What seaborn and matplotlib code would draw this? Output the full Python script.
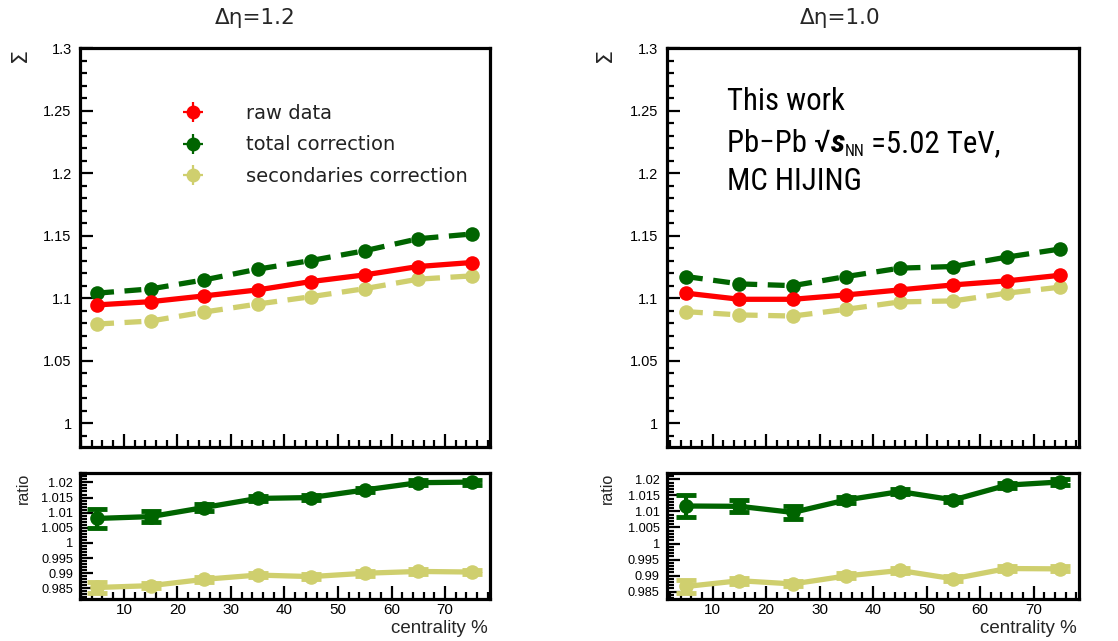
import numpy as np
import pandas as pd
import matplotlib
matplotlib.use("Agg")
import matplotlib.pyplot as plt
import seaborn as sns
from matplotlib.ticker import MultipleLocator, FuncFormatter
from matplotlib import font_manager
from matplotlib.patches import Rectangle
from matplotlib.lines import Line2D
from matplotlib.legend_handler import HandlerTuple

# ---------------- data ----------------
centrality = [5, 15, 25, 35, 45, 55, 65, 75]
panel_titles = ["\u0394\u03b7=1.2", "\u0394\u03b7=1.0"]
series_names = ["raw data", "total correction", "secondaries correction"]

raw_12 = [1.0946, 1.0972, 1.1018, 1.1066, 1.1133, 1.1186, 1.1253, 1.1285]
total_12 = [1.1040, 1.1074, 1.1146, 1.1232, 1.1301, 1.1379, 1.1475, 1.1513]
sec_12 = [1.0793, 1.0817, 1.0889, 1.0953, 1.1012, 1.1076, 1.1152, 1.1178]

raw_10 = [1.1040, 1.0991, 1.0991, 1.1026, 1.1066, 1.1106, 1.1138, 1.1183]
total_10 = [1.1173, 1.1114, 1.1100, 1.1173, 1.1240, 1.1253, 1.1328, 1.1393]
sec_10 = [1.0892, 1.0866, 1.0857, 1.0911, 1.0970, 1.0978, 1.1040, 1.1088]

ratio_total_12 = [1.0081, 1.0087, 1.0117, 1.0147, 1.0150, 1.0175, 1.0199, 1.0201]
ratio_sec_12 = [0.9853, 0.9859, 0.9880, 0.9894, 0.9889, 0.9900, 0.9906, 0.9904]
ratio_total_10 = [1.0117, 1.0116, 1.0097, 1.0136, 1.0162, 1.0136, 1.0182, 1.0192]
ratio_sec_10 = [0.9866, 0.9884, 0.9874, 0.9899, 0.9916, 0.9890, 0.9922, 0.9921]

err_main = [0.0010, 0.0008, 0.0008, 0.0008, 0.0008, 0.0008, 0.0008, 0.0008]
err_ratio_total_12 = [0.0030, 0.0019, 0.0013, 0.0008, 0.0008, 0.0008, 0.0008, 0.0008]
err_ratio_sec_12 = [0.0019, 0.0009, 0.0008, 0.0008, 0.0008, 0.0008, 0.0008, 0.0008]
err_ratio_total_10 = [0.0034, 0.0019, 0.0019, 0.0010, 0.0008, 0.0008, 0.0008, 0.0008]
err_ratio_sec_10 = [0.0019, 0.0010, 0.0008, 0.0008, 0.0008, 0.0008, 0.0008, 0.0008]

info_line1 = "This work"
info_line2_parts = ["Pb\u2212Pb ", "\u221a", "s", "NN", " =5.02 TeV,"]
info_line3 = "MC HIJING"

# ---------------- style ----------------
RED = "#ff0000"
GREEN = "#006400"
YELLOW = "#cfcf6e"

sns.set_style("white")
plt.rcParams["font.family"] = ["Liberation Sans", "DejaVu Sans"]

names = {f.name for f in font_manager.fontManager.ttflist}
narrow, info_size, info_weight = "Roboto", 19.5, "medium"
for cand, sz in [("Roboto Condensed", 22.2), ("Liberation Sans Narrow", 22.5),
                 ("Open Sans Condensed", 22.2), ("Noto Sans Condensed", 22.2)]:
    if cand in names:
        narrow, info_size, info_weight = cand, sz, "normal"
        break

W, H = 1118, 641
fig = plt.figure(figsize=(W / 100, H / 100), dpi=100)


def fx(px):
    return px / W


def fy(py):
    return 1 - py / H


def add_ax(l, t, r, b):
    return fig.add_axes([fx(l), fy(b), fx(r) - fx(l), fy(t) - fy(b)])


ax_main = [add_ax(80, 48, 490, 447), add_ax(666.7, 48, 1079, 447)]
ax_ratio = [add_ax(80, 472.7, 490, 599), add_ax(666.7, 473.3, 1079, 599)]
xlims = [(1.8, 78.4), (1.4, 78.5)]
ratio_ylims = [(0.9815, 1.0232), (0.9827, 1.0219)]

fmt = FuncFormatter(lambda v, p: "%g" % round(v, 4))


def style_axis(ax, ymaj, ymin, lab_size):
    for s in ax.spines.values():
        s.set_linewidth(2.3)
        s.set_color("black")
    ax.xaxis.set_major_locator(MultipleLocator(10))
    ax.xaxis.set_minor_locator(MultipleLocator(2))
    ax.yaxis.set_major_locator(MultipleLocator(ymaj))
    ax.yaxis.set_minor_locator(MultipleLocator(ymin))
    ax.yaxis.set_major_formatter(fmt)
    ax.tick_params(axis="both", which="both", direction="in", top=False, right=False,
                   bottom=True, left=True, width=1.6, colors="black", labelsize=lab_size)
    ax.tick_params(axis="both", which="major", length=9.5)
    ax.tick_params(axis="both", which="minor", length=5)
    ax.tick_params(axis="y", pad=6)
    ax.tick_params(axis="x", pad=3)
    ax.set_xlabel("")
    ax.set_ylabel("")
    ax.grid(False)


main_sets = [(raw_12, total_12, sec_12), (raw_10, total_10, sec_10)]
ratio_sets = [(ratio_total_12, ratio_sec_12, err_ratio_total_12, err_ratio_sec_12),
              (ratio_total_10, ratio_sec_10, err_ratio_total_10, err_ratio_sec_10)]
colors = {series_names[0]: RED, series_names[1]: GREEN, series_names[2]: YELLOW}

for i in range(2):
    ax = ax_main[i]
    raw, tot, sec = main_sets[i]
    df = pd.DataFrame({"centrality": centrality * 3,
                       "value": raw + tot + sec,
                       "series": [series_names[0]] * 8 + [series_names[1]] * 8 + [series_names[2]] * 8})
    order = [series_names[1], series_names[2], series_names[0]]
    for name in order:
        d = df[df.series == name]
        ls = "-" if name == series_names[0] else (0, (3.2, 2.0))
        sns.lineplot(data=d, x="centrality", y="value", ax=ax, color=colors[name],
                     linewidth=3.8, linestyle=ls, marker="o", markersize=10.5,
                     markeredgewidth=0, legend=False, zorder=3 if name == series_names[0] else 2)
        ax.errorbar(d.centrality, d.value, yerr=err_main, fmt="none", ecolor=colors[name],
                    elinewidth=1.5, zorder=2)
    ax.set_xlim(*xlims[i])
    ax.set_ylim(0.981, 1.3)
    style_axis(ax, 0.05, 0.01, 10.5)

    axr = ax_ratio[i]
    rt, rs, et, es = ratio_sets[i]
    dr = pd.DataFrame({"centrality": centrality * 2, "ratio": rt + rs,
                       "series": [series_names[1]] * 8 + [series_names[2]] * 8})
    for name, e in [(series_names[1], et), (series_names[2], es)]:
        d = dr[dr.series == name]
        sns.lineplot(data=d, x="centrality", y="ratio", ax=axr, color=colors[name],
                     linewidth=3.8, marker="o", markersize=10.5, markeredgewidth=0,
                     legend=False)
        axr.errorbar(d.centrality, d.ratio, yerr=e, fmt="none", ecolor=colors[name],
                     elinewidth=3, capsize=7, capthick=3.5, zorder=3)
    axr.set_xlim(*xlims[i])
    axr.set_ylim(*ratio_ylims[i])
    style_axis(axr, 0.005, 0.001, 10)
    axr.tick_params(axis="y", labelsize=9.2, pad=5)
    axr.tick_params(axis="x", labelsize=11)

# legend in left main panel
handles = []
for c in (RED, GREEN, YELLOW):
    h1 = Line2D([], [], marker="o", color=c, markersize=10, markeredgewidth=0, linestyle="none")
    h2 = Line2D([], [], marker="+", color=c, markersize=14, markeredgewidth=1.6, linestyle="none")
    handles.append((h2, h1))
ax_main[0].legend(handles, series_names, handler_map={tuple: HandlerTuple(ndivide=1)},
                  loc="upper left", bbox_to_anchor=(fx(183.3), fy(104)),
                  bbox_transform=fig.transFigure, frameon=False, borderpad=0,
                  borderaxespad=0, handlelength=1.0, handletextpad=2.2,
                  labelspacing=0.64, prop={"family": "DejaVu Sans", "size": 14},
                  labelcolor="#222222")

# cover the clipped top-panel x tick labels (as in the reference)
fig.patches.append(Rectangle((0, fy(470)), 1, fy(452.5) - fy(470), transform=fig.transFigure,
                             facecolor="white", edgecolor="none", zorder=5))

# titles and labels
for i, xc in enumerate([255, 840]):
    fig.text(fx(xc), fy(18), panel_titles[i], ha="center", va="center", fontsize=15.5,
             family=["DejaVu Sans"])
for xs in [20, 605]:
    fig.text(fx(xs), fy(55), "\u03a3", rotation=90, ha="center", va="center", fontsize=16,
             family=["DejaVu Sans"])
for xs in [23, 607]:
    fig.text(fx(xs), fy(488), "ratio", rotation=90, ha="center", va="center", fontsize=11.5)
for xr in [488, 1077]:
    fig.text(fx(xr), fy(633), "centrality %", ha="right", va="baseline", fontsize=13.5)

# info text in the right main panel
x0 = 726.7
tkw = dict(ha="left", va="baseline", color="black")
fig.text(fx(x0), fy(110), info_line1, fontsize=info_size,
         family=[narrow, "DejaVu Sans"], weight=info_weight, **tkw)
fig.text(fx(x0), fy(190), info_line3, fontsize=info_size,
         family=[narrow, "DejaVu Sans"], weight=info_weight, **tkw)

renderer = fig.canvas.get_renderer()
part_styles = [
    dict(fontsize=info_size, weight=info_weight, style="normal", dy=0, gap=0),
    dict(fontsize=info_size, weight=info_weight, style="normal", dy=0, gap=0),
    dict(fontsize=info_size * 1.05, weight="bold", style="italic", dy=0, gap=0),
    dict(fontsize=info_size * 0.52, weight=info_weight, style="normal", dy=4, gap=0),
    dict(fontsize=info_size, weight=info_weight, style="normal", dy=0, gap=0),
]
xc = x0
for part, st in zip(info_line2_parts, part_styles):
    t = fig.text(fx(xc), fy(151.7 + st["dy"]), part, fontsize=st["fontsize"],
                 family=[narrow, "DejaVu Sans"], weight=st["weight"], style=st["style"], **tkw)
    bb = t.get_window_extent(renderer)
    xc = bb.x1 + st["gap"]

fig.savefig("out.png", dpi=100)
